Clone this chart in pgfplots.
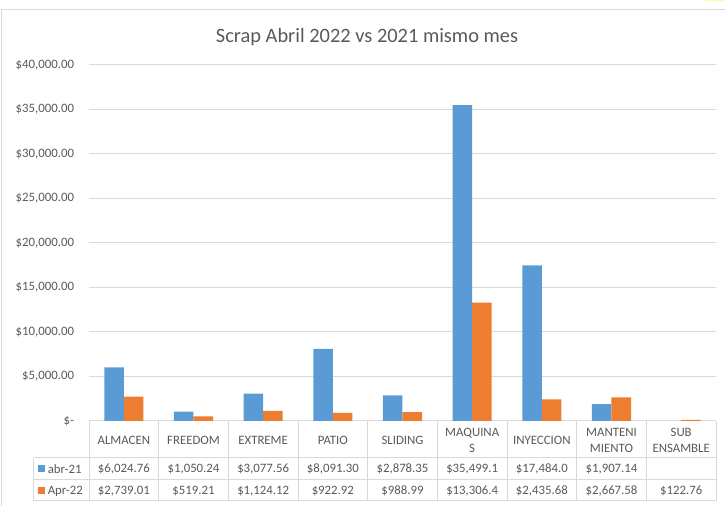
\documentclass[border=0pt]{standalone}
\usepackage{pgfplots}
\pgfplotsset{compat=1.18}
\usepackage{fontspec}
\setmainfont{Carlito}
\definecolor{txt}{HTML}{595959}
\definecolor{gridc}{HTML}{D9D9D9}
\definecolor{sblue}{HTML}{5B9BD5}
\definecolor{sorange}{HTML}{ED7D31}
\begin{document}
\begin{tikzpicture}
\begin{axis}[scale only axis,
  width=470.25pt, height=267pt,
  xmin=-0.5, xmax=8.5, ymin=0, ymax=40000,
  scaled y ticks=false,
  ytick={0,5000,10000,15000,20000,25000,30000,35000,40000},
  yticklabels={{\$-\hspace{6.5pt}},{\$5,000.00},{\$10,000.00},{\$15,000.00},{\$20,000.00},{\$25,000.00},{\$30,000.00},{\$35,000.00},{\$40,000.00}},
  xtick=\empty,
  axis line style={draw=none},
  ymajorgrids, grid style={gridc, line width=0.75pt},
  major tick length=0pt,
  ybar=0pt, bar width=0.28,
  ticklabel style={font=\fontsize{9.6}{11}\selectfont, text=txt},
  yticklabel style={inner sep=0pt, xshift=-11pt},
  clip=false]
\addplot[fill=sblue, draw=none] coordinates {(0,6024.76) (1,1050.24) (2,3077.56) (3,8091.30) (4,2878.35) (5,35499.1) (6,17484.0) (7,1907.14)};
\addplot[fill=sorange, draw=none] coordinates {(0,2739.01) (1,519.21) (2,1124.12) (3,922.92) (4,988.99) (5,13306.4) (6,2435.68) (7,2667.58) (8,122.76)};
\coordinate (O) at (rel axis cs:0,0);
\end{axis}
\begin{scope}[shift={(O)}, x=0.75pt, y=0.75pt, shift={(-89,-85)}]
\pgfresetboundingbox
\useasboundingbox (0,0) rectangle (725,506);
\begin{scope}[on background layer/.try]
\end{scope}
\draw[gridc, line width=0.75pt] (2,0) -- (2,496) -- (725,496);
\fill[yellow!35] (705,504.8) rectangle (725,506);
\node[text=txt, font=\fontsize{15.3}{18}\selectfont] at (367,469) {Scrap Abril 2022 vs 2021 mismo mes};
% data table
\begin{scope}[gridc, line width=0.75pt]
\draw (34,48) -- (716,48);
\draw (34,26) -- (716,26);
\draw (34,5) -- (716,5);
\draw (34,48) -- (34,5);
\foreach \i in {0,...,9} {
  \pgfmathsetmacro{\xx}{89+69.667*\i}
  \draw (\xx,85) -- (\xx,5);
}
\end{scope}
\begin{scope}[every node/.style={text=txt, font=\fontsize{9.6}{12}\selectfont, align=center, inner sep=0pt}]
\foreach \lab [count=\i from 0] in {ALMACEN,FREEDOM,EXTREME,PATIO,SLIDING,{MAQUINA\\S},INYECCION,{MANTENI\\MIENTO},{SUB\\ENSAMBLE}} {
  \pgfmathsetmacro{\xx}{89+69.667*(\i+0.5)}
  \node at (\xx,66) {\lab};
}
\foreach \lab [count=\i from 0] in {{\$6,024.76},{\$1,050.24},{\$3,077.56},{\$8,091.30},{\$2,878.35},{\$35,499.1},{\$17,484.0},{\$1,907.14},{}} {
  \pgfmathsetmacro{\xx}{89+69.667*(\i+0.5)}
  \node at (\xx,37) {\lab};
}
\foreach \lab [count=\i from 0] in {{\$2,739.01},{\$519.21},{\$1,124.12},{\$922.92},{\$988.99},{\$13,306.4},{\$2,435.68},{\$2,667.58},{\$122.76}} {
  \pgfmathsetmacro{\xx}{89+69.667*(\i+0.5)}
  \node at (\xx,15) {\lab};
}
\fill[sblue] (38.5,34) rectangle (45,40.5);
\fill[sorange] (38.5,12) rectangle (45,18.5);
\node[anchor=west] at (47.5,37) {abr-21};
\node[anchor=west] at (47.5,15) {Apr-22};
\end{scope}
\end{scope}
\end{tikzpicture}
\end{document}
